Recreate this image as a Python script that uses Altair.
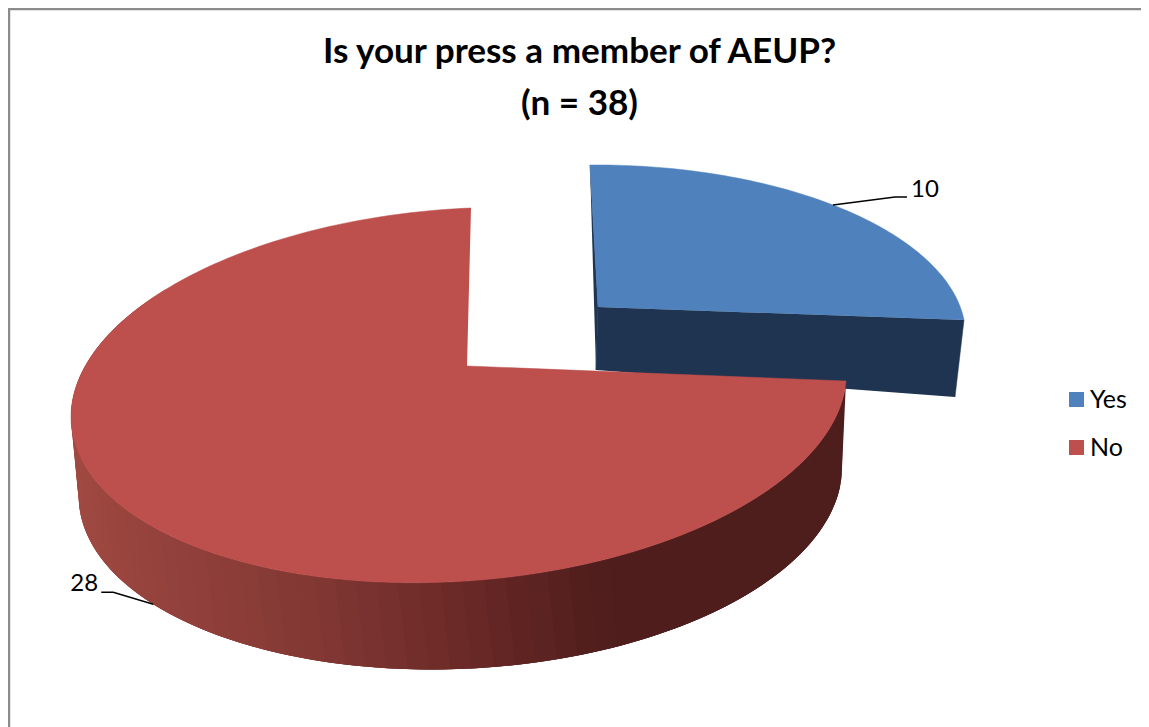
import numpy as np
import pandas as pd
import altair as alt

# ---- chart values ----
categories = ["Yes", "No"]
values = [10, 28]
top_colors = ["#4F81BD", "#BD4F4C"]
title_lines = ["Is your press a member of AEUP?", "(n = 38)"]

total = sum(values)
sweep_yes = 2 * np.pi * values[0] / total
OFFX, OFFY = 8, 8  # page margin
W, H = 1133, 719
RED_APEX = (467, 366)


def homography(src, dst):
    A, b = [], []
    for (u, v), (x, y) in zip(src, dst):
        A.append([u, v, 1, 0, 0, 0, -u * x, -v * x]); b.append(x)
        A.append([0, 0, 0, u, v, 1, -u * y, -v * y]); b.append(y)
    h = np.linalg.lstsq(np.array(A, float), np.array(b, float), rcond=None)[0]
    return np.append(h, 1).reshape(3, 3)


def circ(t):
    return (np.sin(t), np.cos(t))


def proj(M, t=None):
    u, v = (0.0, 0.0) if t is None else circ(t)
    p = M @ np.array([u, v, 1.0])
    return (p[0] / p[2], p[1] / p[2])


cal = [circ(0), circ(sweep_yes), circ(np.pi), circ(1.5 * np.pi)]
red_top = homography(cal, [(471, 208), (846, 381), (448, 582), (73, 398)])
red_bot = homography(cal, [(460, 294), (842, 468), (458, 669), (80, 480)])
blue_top = homography([(0, 0), circ(0), circ(sweep_yes), circ(sweep_yes / 2)],
                      [(598, 307), (590, 165), (964, 320), (833, 205)])
blue_bot = homography([(0, 0), circ(0), circ(sweep_yes), circ(sweep_yes / 2)],
                      [(596, 370), (588, 225), (955, 397), (826, 270)])

rows = []
pid = [0]


def add_poly(pts, color, series=None):
    pid[0] += 1
    for i, (x, y) in enumerate(pts):
        rows.append(dict(x=x, y=y, i=i, poly=pid[0], color=color, series=series))


def wall_color(x):
    xs = [70, 130, 300, 450, 600, 840]
    rs = [0xA0, 0x98, 0x84, 0x6C, 0x50, 0x4E]
    gs = [0x4A, 0x44, 0x39, 0x2A, 0x1E, 0x1E]
    bs = [0x42, 0x3E, 0x35, 0x28, 0x1C, 0x1E]
    return "#%02x%02x%02x" % (int(np.interp(x, xs, rs)), int(np.interp(x, xs, gs)), int(np.interp(x, xs, bs)))


# blue walls
add_poly([proj(blue_bot), proj(blue_top), proj(blue_top, sweep_yes), proj(blue_bot, sweep_yes)], "#1F3450")
add_poly([proj(blue_bot), proj(blue_top), proj(blue_top, 0)], "#1F3450")
walls_blue = pd.DataFrame(rows)
rows.clear()

# red outer wall: painted right to left, every band reaching under the next one
ts = np.linspace(sweep_yes, np.radians(300), 70)
for a, b in zip(ts[:-1], ts[1:]):
    sub = np.linspace(a, b + 2 * (b - a), 6)
    upper = [proj(red_top, t) for t in sub]
    lower = [proj(red_bot, t) for t in sub]
    add_poly(upper + lower[::-1], wall_color(proj(red_top, (a + b) / 2)[0]))
walls_red = pd.DataFrame(rows)
rows.clear()

# top faces
arc_yes = [proj(blue_top, t) for t in np.linspace(0, sweep_yes, 80)]
add_poly([proj(blue_top)] + arc_yes, top_colors[0], categories[0])
arc_no = [proj(red_top, t) for t in np.linspace(sweep_yes, 2 * np.pi, 220)]
add_poly([RED_APEX] + arc_no, top_colors[1], categories[1])
faces = pd.DataFrame(rows)
rows.clear()

xs = alt.X("x:Q", scale=alt.Scale(domain=[OFFX, OFFX + W], range=[0, W]), axis=None)
ys = alt.Y("y:Q", scale=alt.Scale(domain=[OFFY, OFFY + H], range=[0, H]), axis=None)


def walls(df, sw):
    return alt.Chart(df).mark_line(strokeWidth=sw, interpolate="linear").encode(
        x=xs, y=ys, order="i:Q", detail="poly:Q",
        fill=alt.Fill("color:N", scale=None, legend=None),
        stroke=alt.Stroke("color:N", scale=None, legend=None),
    )


face_layer = alt.Chart(faces).mark_line(strokeWidth=0.5).encode(
    x=xs, y=ys, order="i:Q", detail="poly:N",
    fill=alt.Fill("series:N", sort=categories,
                  scale=alt.Scale(domain=categories, range=top_colors),
                  legend=alt.Legend(title=None, orient="none", legendX=1056, legendY=379,
                                    symbolType="square", symbolSize=225, symbolStrokeWidth=0,
                                    labelFont="Lato", labelFontSize=25, labelColor="#000000",
                                    labelOffset=1, rowPadding=22, padding=0)),
    stroke=alt.Stroke("series:N", scale=alt.Scale(domain=categories, range=top_colors), legend=None),
)

# leader lines
p10 = proj(blue_top, sweep_yes / 2)
p28 = proj(red_bot, sweep_yes + (2 * np.pi - sweep_yes) / 2 + 0.04)
leaders = pd.DataFrame([
    dict(x=p10[0], y=p10[1], i=0, k="a"), dict(x=p10[0] + 62, y=p10[1] - 8, i=1, k="a"),
    dict(x=p10[0] + 74, y=p10[1] - 8, i=2, k="a"),
    dict(x=p28[0], y=p28[1], i=0, k="b"), dict(x=p28[0] - 40, y=p28[1] - 12, i=1, k="b"),
    dict(x=p28[0] - 52, y=p28[1] - 12, i=2, k="b"),
])
leader_layer = alt.Chart(leaders).mark_line(color="#000000", strokeWidth=1.4).encode(
    x=xs, y=ys, order="i:Q", detail="k:N")

labels = pd.DataFrame([
    dict(x=p10[0] + 92, y=p10[1] - 15, t=str(values[0])),
    dict(x=p28[0] - 69, y=p28[1] - 20, t=str(values[1])),
])
label_layer = alt.Chart(labels).mark_text(font="Lato", fontSize=24, color="#000000", baseline="middle").encode(
    x=xs, y=ys, text="t:N")

titles = pd.DataFrame([
    dict(x=579.5, y=52, t=title_lines[0]),
    dict(x=579.5, y=104, t=title_lines[1]),
])
title_layer = alt.Chart(titles).mark_text(font="Lato", fontSize=35.1, fontWeight="bold", color="#000000", baseline="middle").encode(
    x=xs, y=ys, text="t:N")

border_left = alt.Chart(pd.DataFrame({"k": [0]})).mark_rule(color="#8C8C8C", strokeWidth=2.5).encode(
    x=alt.value(1), y=alt.value(0), y2=alt.value(H))
border_top = alt.Chart(pd.DataFrame({"k": [0]})).mark_rule(color="#8C8C8C", strokeWidth=2.5).encode(
    y=alt.value(1), x=alt.value(0), x2=alt.value(W))

chart = alt.layer(border_left, border_top, walls(walls_blue, 0.5), walls(walls_red, 0), face_layer, leader_layer, label_layer, title_layer).resolve_scale(
    fill="independent", stroke="independent"
).properties(
    width=W, height=H, padding=0,
    autosize=alt.AutoSizeParams(type="none"),
    background="#ffffff",
).configure_view(stroke=None)

chart.save("out.html", embed_options={"renderer": "svg", "actions": False})
